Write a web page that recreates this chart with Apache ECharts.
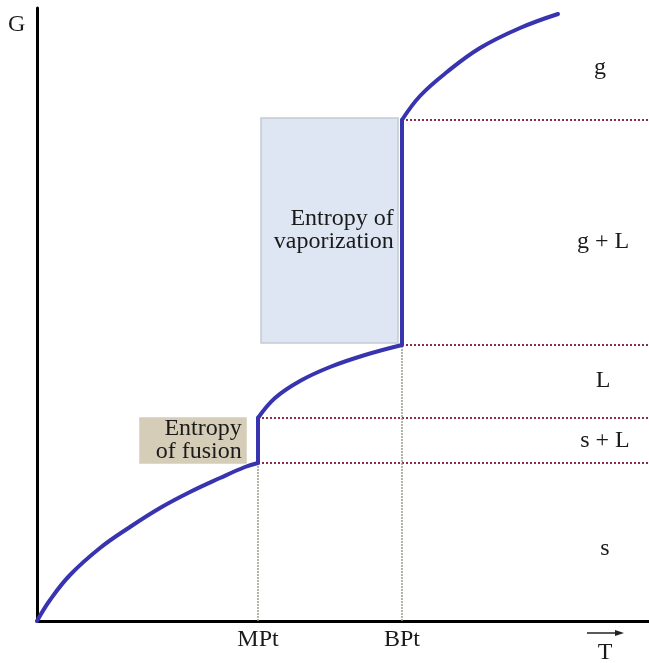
<!DOCTYPE html>
<html>
<head>
<meta charset="utf-8">
<style>
  html, body { margin: 0; padding: 0; background: #fff; }
  #chart { width: 649px; height: 663px; }
</style>
<script src="https://cdn.jsdelivr.net/npm/echarts@6/dist/echarts.min.js"></script>
</head>
<body>
<div id="chart"></div>
<script>
// G vs T curve (schematic units)
var curveT = [0, 13, 33, 63, 93, 123, 153, 183, 208, 221, 221, 238, 263, 293, 328, 365, 365, 383, 410, 443, 483, 521];
var curveG = [0, 21, 46, 73, 94, 113, 129, 143, 154, 158, 203, 223, 240, 254, 266, 276, 501, 525, 549, 573, 593, 607];
var MPt = 221;
var BPt = 365;
var tMax = 612;
var gMax = 613;
// levels of the phase changes
var fusionLow = 158, fusionHigh = 203;
var vapLow = 276, vapHigh = 501;
// boxes: [t0, t1, g0, g1]
var fusionBox = [103, 209, 158, 203];
var vapBox = [224, 361, 278, 503];
var tickNames = { 221: 'MPt', 365: 'BPt' };

var serif = 'Liberation Serif';
var font = '24px "Liberation Serif"';
var textColor = '#1a1a1a';
var dotRed = '#8e2a4c';
var dotGray = '#9c9c88';
var curveColor = '#3834b0';

function pairs(xs, ys) {
  return xs.map(function (x, i) { return [x, ys[i]]; });
}

// split the curve into smooth pieces and vertical jumps
var pts = pairs(curveT, curveG);
var curveSeries = [];
var piece = [pts[0]];
for (var i = 1; i < pts.length; i++) {
  if (pts[i][0] === pts[i - 1][0]) {
    curveSeries.push(piece);
    curveSeries.push([pts[i - 1], pts[i]]);
    piece = [pts[i]];
  } else {
    piece.push(pts[i]);
  }
}
curveSeries.push(piece);

function hLine(from, level) {
  return {
    type: 'line', symbol: 'none', silent: true, z: 1,
    lineStyle: { color: dotRed, width: 2, type: [2, 2] },
    data: [[from, level], [tMax, level]]
  };
}
function vLine(at, level) {
  return {
    type: 'line', symbol: 'none', silent: true, z: 1,
    lineStyle: { color: dotGray, width: 1.5, type: [2, 1] },
    data: [[at, 0], [at, level]]
  };
}

var series = [
  hLine(MPt, fusionLow),
  hLine(MPt, fusionHigh),
  hLine(BPt, vapLow),
  hLine(BPt, vapHigh),
  vLine(MPt, fusionLow),
  vLine(BPt, vapLow),
  {
    type: 'custom', z: 2, silent: true,
    renderItem: function (params, api) {
      var fusion = api.value(4) === 0;
      var p0 = api.coord([api.value(0), api.value(3)]);
      var p1 = api.coord([api.value(1), api.value(2)]);
      return {
        type: 'rect',
        shape: { x: p0[0], y: p0[1], width: p1[0] - p0[0], height: p1[1] - p0[1] },
        style: { fill: fusion ? '#d5cdb8' : '#dde6f2', stroke: fusion ? '#d5cdb8' : '#c4cad2', lineWidth: 1.5 },
        textContent: {
          style: {
            text: fusion ? 'Entropy\nof fusion' : 'Entropy of\nvaporization',
            font: font, fill: textColor, align: 'right', lineHeight: 23
          }
        },
        textConfig: { position: 'insideRight', distance: 5 }
      };
    },
    encode: { x: [0, 1], y: [2, 3] },
    data: [fusionBox.concat([0]), vapBox.concat([1])]
  }
];
curveSeries.forEach(function (d) {
  series.push({
    type: 'line', symbol: 'none', z: 3, smooth: d.length > 2 ? 0.4 : false,
    lineStyle: { color: curveColor, width: 4, cap: 'round', join: 'round' },
    data: d
  });
});

option = {
  backgroundColor: '#fff',
  animation: false,
  grid: { left: 37, right: 0, top: 8, bottom: 42 },
  xAxis: {
    type: 'value', min: 0, max: tMax,
    splitLine: { show: false },
    axisLine: { lineStyle: { color: '#000', width: 3 } },
    axisTick: { show: false },
    axisLabel: {
      customValues: [MPt, BPt],
      formatter: function (v) { return tickNames[v] || ''; },
      fontFamily: serif, fontSize: 24, color: textColor, margin: 7
    }
  },
  yAxis: {
    type: 'value', min: 0, max: gMax,
    splitLine: { show: false },
    axisLine: { show: true, lineStyle: { color: '#000', width: 3 } },
    axisTick: { show: false },
    axisLabel: { show: false }
  },
  series: series,
  graphic: [
    { type: 'text', left: 8, top: 13, style: { text: 'G', font: font, fill: textColor } },
    { type: 'text', x: 600, y: 68, style: { text: 'g', font: font, fill: textColor, align: 'center', verticalAlign: 'middle' } },
    { type: 'text', x: 603, y: 242, style: { text: 'g + L', font: font, fill: textColor, align: 'center', verticalAlign: 'middle' } },
    { type: 'text', x: 603, y: 381, style: { text: 'L', font: font, fill: textColor, align: 'center', verticalAlign: 'middle' } },
    { type: 'text', x: 605, y: 441, style: { text: 's + L', font: font, fill: textColor, align: 'center', verticalAlign: 'middle' } },
    { type: 'text', x: 605, y: 549, style: { text: 's', font: font, fill: textColor, align: 'center', verticalAlign: 'middle' } },
    { type: 'text', x: 605, y: 653, style: { text: 'T', font: font, fill: textColor, align: 'center', verticalAlign: 'middle' } },
    { type: 'line', shape: { x1: 587, y1: 633, x2: 620, y2: 633 }, style: { stroke: '#222', lineWidth: 1.5 } },
    { type: 'polygon', shape: { points: [[624, 633], [615, 630], [615, 636]] }, style: { fill: '#222' } }
  ]
};

var chart = echarts.init(document.getElementById('chart'));
chart.setOption(option);
</script>
</body>
</html>
